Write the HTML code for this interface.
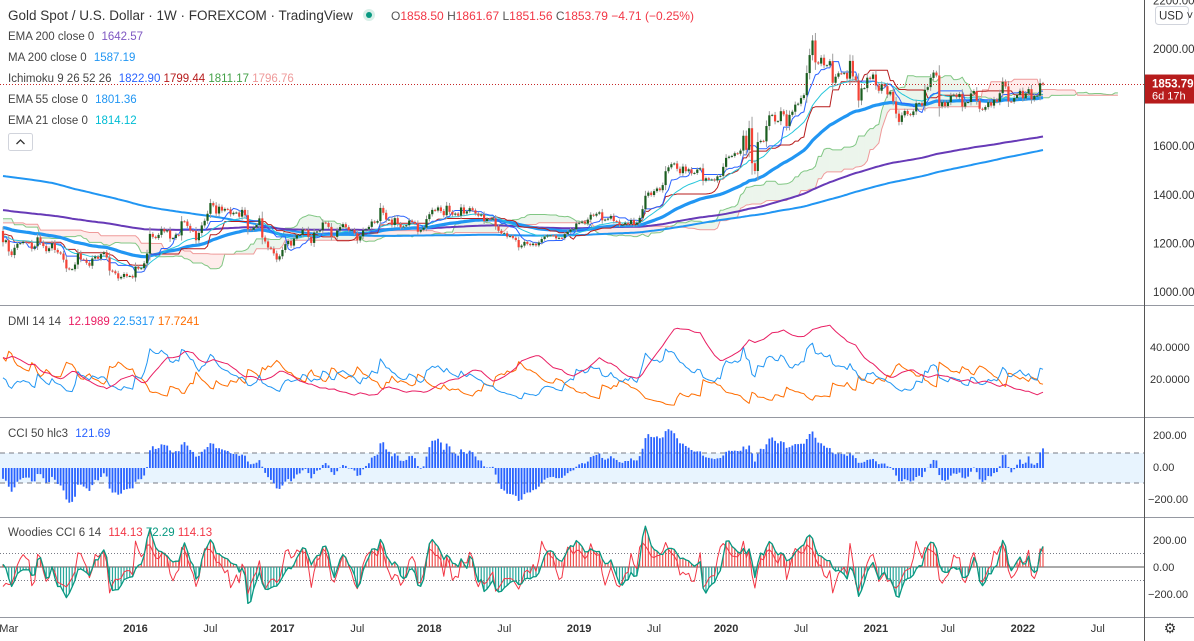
<!DOCTYPE html>
<html><head><meta charset="utf-8">
<style>
html,body{margin:0;padding:0;background:#fff;width:1194px;height:641px;overflow:hidden;font-family:"Liberation Sans",sans-serif}
svg{display:block}
text{font-family:"Liberation Sans",sans-serif}
</style></head>
<body>
<svg id="chart" width="1194" height="641" viewBox="0 0 1194 641">
<defs>
<clipPath id="cMain"><rect x="0" y="0" width="1144" height="305"/></clipPath>
<clipPath id="cDmi"><rect x="0" y="306" width="1144" height="111"/></clipPath>
<clipPath id="cCci"><rect x="0" y="418" width="1144" height="99"/></clipPath>
<clipPath id="cWcci"><rect x="0" y="518" width="1144" height="99"/></clipPath>
</defs>
<g id="panes"></g>
<g id="marks"></g>
<g id="axes"></g>
<g id="legend">
<text x="8" y="20" font-size="13.5" fill="#333">Gold Spot / U.S. Dollar · 1W · FOREXCOM · TradingView</text>
<circle cx="369" cy="15" r="6" fill="#d8efe8"/>
<circle cx="369" cy="15" r="3" fill="#089981"/>
<text x="391" y="20" font-size="12"><tspan fill="#555">O</tspan><tspan fill="#f23645">1858.50 </tspan><tspan fill="#555">H</tspan><tspan fill="#f23645">1861.67 </tspan><tspan fill="#555">L</tspan><tspan fill="#f23645">1851.56 </tspan><tspan fill="#555">C</tspan><tspan fill="#f23645">1853.79 −4.71 (−0.25%)</tspan></text>
<text x="8" y="40" font-size="11.5" fill="#444">EMA 200 close 0 <tspan fill="#7e57c2" dx="4">1642.57</tspan></text>
<text x="8" y="61" font-size="11.5" fill="#444">MA 200 close 0 <tspan fill="#2196f3" dx="4">1587.19</tspan></text>
<text x="8" y="82" font-size="11.5" fill="#444">Ichimoku 9 26 52 26 <tspan fill="#2962ff" dx="4">1822.90</tspan> <tspan fill="#b71c1c">1799.44</tspan> <tspan fill="#43a047">1811.17</tspan> <tspan fill="#ef9a9a">1796.76</tspan></text>
<text x="8" y="103" font-size="11.5" fill="#444">EMA 55 close 0 <tspan fill="#2196f3" dx="4">1801.36</tspan></text>
<text x="8" y="124" font-size="11.5" fill="#444">EMA 21 close 0 <tspan fill="#00bcd4" dx="4">1814.12</tspan></text>
<rect x="8.5" y="133.5" width="24" height="17" rx="2" fill="#fff" stroke="#d1d4dc"/>
<path d="M16.5 144 L20.5 140 L24.5 144" fill="none" stroke="#333" stroke-width="1.3"/>
<text x="8" y="325" font-size="11.5" fill="#444">DMI 14 14 <tspan fill="#e91e63" dx="4">12.1989</tspan> <tspan fill="#2196f3">22.5317</tspan> <tspan fill="#ff6d00">17.7241</tspan></text>
<text x="8" y="437" font-size="11.5" fill="#444">CCI 50 hlc3 <tspan fill="#2962ff" dx="4">121.69</tspan></text>
<text x="8" y="536" font-size="11.5" fill="#444">Woodies CCI 6 14 <tspan fill="#f23645" dx="4">114.13</tspan> <tspan fill="#089981">72.29</tspan> <tspan fill="#f23645">114.13</tspan></text>
</g>
</svg>
<script>
// ---- data: weekly closes Feb 2015 .. Feb 2022 ----
const closes = [1205,1213,
1167,1152,1182,1199,1201, 1207,1204,1203,1178, 1188,1225,1204,1189, 1168,1180,1201,1173,1163, 1158,1133,1097,1094, 1094,1113,1159,1134,1133, 1120,1108,1138,1146, 1137,1156,1163,1142, 1088,1085,1077,1056,1062, 1074,1065,1066,1060,
1104,1096,1098,1118, 1158,1239,1227,1222,1235, 1259,1249,1254,1220, 1222,1236,1233,1291, 1290,1272,1253,1252,1213, 1243,1274,1293,1322, 1366,1356,1323,1351, 1335,1342,1340,1320,1326, 1327,1310,1338,1316, 1258,1256,1266,1276, 1303,1224,1208,1183, 1178,1159,1134,1147,
1173,1197,1210,1191,1220, 1234,1235,1257,1256, 1227,1202,1245,1249, 1254,1286,1284,1268, 1228,1227,1253,1267,1279, 1267,1254,1256,1242, 1212,1229,1254,1258, 1268,1290,1285,1292, 1346,1326,1298,1298, 1276,1304,1280,1266,1270, 1275,1294,1288,1281, 1248,1256,1265,1300,
1320,1338,1335,1348,1333, 1316,1355,1330,1318, 1323,1314,1348,1323, 1332,1345,1336,1323, 1314,1319,1292,1301, 1298,1303,1270,1252, 1241,1242,1228,1231,1223, 1214,1184,1191,1206, 1198,1193,1199,1192, 1204,1218,1228,1233,1233, 1232,1221,1223,1222, 1238,1248,1257,1258,1282,
1285,1290,1282,1298, 1318,1314,1322,1328, 1295,1298,1302,1313, 1292,1290,1276,1277,1285, 1280,1296,1277,1285, 1305,1341,1396,1409, 1399,1415,1426,1419, 1440,1497,1513,1526,1529, 1507,1489,1516,1497, 1505,1488,1490,1504, 1509,1458,1468,1462, 1463,1459,1476,1478,1515,
1552,1557,1560,1571, 1569,1582,1643,1585, 1674,1530,1498,1617,1622, 1620,1683,1727,1729, 1702,1703,1744,1731, 1683,1729,1742,1771,1775, 1798,1810,1901,1975, 2035,1945,1940,1964,1933, 1933,1950,1861,1886, 1900,1898,1902,1878, 1951,1887,1871,1788,1838, 1839,1882,1877,1895,
1850,1828,1855,1847, 1813,1824,1784,1734, 1700,1727,1745,1732,1728, 1743,1777,1777,1767, 1832,1843,1881,1903,1891, 1764,1781,1765,1781, 1808,1812,1802,1815, 1763,1780,1782,1817,1827, 1787,1754,1750,1761, 1781,1767,1792,1783, 1818,1865,1846,1784, 1783,1798,1811,1828,
1797,1817,1835,1792,1807, 1808,1859,1854];
// monthly averages Apr 2011 .. Jan 2015 (indicator warm-up only, not drawn)
const priorMonthly = [1474,1512,1529,1572,1756,1772,1665,1739,1652,1656,1742,1673,1650,1585,1596,1594,1626,1745,1747,1721,1684,1671,1628,1593,1487,1414,1343,1286,1347,1349,1316,1275,1225,1244,1300,1336,1299,1287,1279,1311,1296,1239,1222,1176,1201,1251];
const ema200Seed = 1337;
const priceTicks = [2200,2000,1600,1400,1200,1000];
const dmiTicks = [40,20];
const cciTicks = [200,0,-200];
const timeLabels = ["Mar","2016","Jul","2017","Jul","2018","Jul","2019","Jul","2020","Jul","2021","Jul","2022","Jul"];
const timeLabelWeeks = [2,46,72,97,123,148,174,200,226,251,277,303,328,354,380];
const lastPrice = 1853.79;

// ---- helpers ----
const NS = "http://www.w3.org/2000/svg";
const svg = document.getElementById('chart');
const G = {panes:document.getElementById('panes'),marks:document.getElementById('marks'),axes:document.getElementById('axes')};
function el(tag, attrs, parent){const e=document.createElementNS(NS,tag);for(const k in attrs)e.setAttribute(k,attrs[k]);(parent||G.marks).appendChild(e);return e;}
function grp(clip,name){const g=el('g',{'clip-path':'url(#'+clip+')'});return g;}

const N = closes.length;
const pre = [];
priorMonthly.forEach((v,k)=>{const r = (k%3===0)?5:4; for(let j=0;j<r;j++) pre.push(v);});
const P = pre.length;
const all = pre.concat(closes);
const T = all.length;
const O=[],H=[],L=[],C=all;
for(let i=0;i<T;i++){const o=i>0?all[i-1]:all[i];const c=all[i];const d=Math.abs(c-o);O.push(o);H.push(Math.max(o,c)+4+0.3*d);L.push(Math.min(o,c)-4-0.3*d);}

const step = 1040/(N-1);
const xOf = i => 3 + i*step;
const yP = p => 49 + (2000-p)*0.243;
const yD = v => 411 - v*1.6;
const yC = v => 468 - v*0.15;
const yW = v => 567 - v*0.135;
const cciLabelY = v => 467 - v*0.16;

function ema(arr,n,seed){const a=2/(n+1);const out=[];let e=seed!==undefined?seed:arr[0];for(let i=0;i<arr.length;i++){e=i===0&&seed===undefined?arr[0]:e+a*(arr[i]-e);out.push(e);}return out;}
function sma(arr,n){const out=[];let s=0;for(let i=0;i<arr.length;i++){s+=arr[i];if(i>=n)s-=arr[i-n];out.push(s/Math.min(i+1,n));}return out;}
function don(n,i){let h=-1e9,l=1e9;for(let k=Math.max(0,i-n+1);k<=i;k++){h=Math.max(h,H[k]);l=Math.min(l,L[k]);}return (h+l)/2;}
function rma(arr,n){const out=[];let r=arr[0];for(let i=0;i<arr.length;i++){r=i===0?arr[0]:(r*(n-1)+arr[i])/n;out.push(r);}return out;}
function cci(n){const tp=[];for(let i=0;i<T;i++)tp.push((H[i]+L[i]+C[i])/3);const out=[];for(let i=0;i<T;i++){const s=Math.max(0,i-n+1);let m=0;for(let k=s;k<=i;k++)m+=tp[k];m/=(i-s+1);let md=0;for(let k=s;k<=i;k++)md+=Math.abs(tp[k]-m);md/=(i-s+1);out.push(md?((tp[i]-m)/(0.015*md)):0);}return out;}
function line(vals,yf,from,to,attrs,parent,name){let d='';for(let i=from;i<to;i++){const v=vals(i);if(v===null)continue;d+=(d?'L':'M')+xOf(i).toFixed(1)+' '+yf(v).toFixed(1);}const p=el('path',Object.assign({d:d,fill:'none','stroke-linejoin':'round'},attrs),parent);return p;}

// ---- panes / separators ----
[305,417,517,617].forEach((y,k)=>{const l=el('line',{x1:0,x2:1194,y1:y+.5,y2:y+.5,stroke:'#9598a1','stroke-width':1},G.panes);});
const ax=el('line',{x1:1144.5,x2:1144.5,y1:0,y2:641,stroke:'#555','stroke-width':1},G.panes);


// ---- indicators ----
const ema21 = ema(all,21), ema55 = ema(all,55), ma200 = sma(all,200);
const ema200 = []; {let e=ema200Seed;const a=2/201;for(let i=0;i<N;i++){if(i>0)e=e+a*(closes[i]-e);ema200.push(e);}}
const tenkan=[],kijun=[],spanA=[],spanB=[];
for(let i=0;i<T;i++){tenkan.push(don(9,i));kijun.push(don(26,i));}
for(let i=0;i<T;i++){spanA.push((tenkan[i]+kijun[i])/2);spanB.push(don(52,i));}

const gMain = grp('cMain','price-pane');
const A = i => spanA[P+i-26], B = i => spanB[P+i-26];
for(let i=0;i<N+25;i++){
  const a0=A(i),a1=A(i+1),b0=B(i),b1=B(i+1);
  const up=(a0+a1)>=(b0+b1);
  const q=el('polygon',{points:`${xOf(i)},${yP(a0)} ${xOf(i+1)},${yP(a1)} ${xOf(i+1)},${yP(b1)} ${xOf(i)},${yP(b0)}`,fill:up?'rgba(67,160,71,0.10)':'rgba(244,67,54,0.10)',stroke:'none'},gMain);
  
  
}
line(A,yP,0,N+26,{stroke:'#81c784','stroke-width':1},gMain,'ichimoku-leading-span-a');
line(B,yP,0,N+26,{stroke:'#ef9a9a','stroke-width':1},gMain,'ichimoku-leading-span-b');
line(i=>ma200[P+i],yP,0,N,{stroke:'#2196f3','stroke-width':2},gMain,'ma200-line');
line(i=>ema200[i],yP,0,N,{stroke:'#673ab7','stroke-width':2},gMain,'ema200-line');
line(i=>ema55[P+i],yP,0,N,{stroke:'#2196f3','stroke-width':3.2},gMain,'ema55-line');
line(i=>kijun[P+i],yP,0,N,{stroke:'#b71c1c','stroke-width':1},gMain,'ichimoku-base-line');
line(i=>ema21[P+i],yP,0,N,{stroke:'#26c6da','stroke-width':1},gMain,'ema21-line');
line(i=>tenkan[P+i],yP,0,N,{stroke:'#2962ff','stroke-width':1},gMain,'ichimoku-conversion-line');
for(let i=0;i<N;i++){
  const k=P+i,o=O[k],c=C[k],up=c>=o,x=xOf(i);
  const w=el('line',{x1:x,x2:x,y1:yP(H[k]),y2:yP(L[k]),stroke:'#9e9e9e','stroke-width':1},gMain);
  
  
  const top=yP(Math.max(o,c)),bot=yP(Math.min(o,c));
  const r=el('rect',{x:x-1.1,y:top,width:2.2,height:Math.max(1,bot-top),fill:up?'#1b5e20':'#f44336'},gMain);
  
  
}
const pl=el('line',{x1:0,x2:1144,y1:yP(lastPrice),y2:yP(lastPrice),stroke:'#c62828','stroke-width':1,'stroke-dasharray':'1 2'},G.marks);



// ---- DMI ----
const gD=grp('cDmi','dmi-pane');
const pdm=[],mdm=[],tr=[];
for(let i=0;i<T;i++){if(i===0){pdm.push(0);mdm.push(0);tr.push(H[0]-L[0]);continue;}const u=H[i]-H[i-1],d=L[i-1]-L[i];pdm.push(u>d&&u>0?u:0);mdm.push(d>u&&d>0?d:0);tr.push(Math.max(H[i]-L[i],Math.abs(H[i]-C[i-1]),Math.abs(L[i]-C[i-1])));}
const rtr=rma(tr,14),rp=rma(pdm,14),rm=rma(mdm,14);
const pdi=rp.map((v,i)=>100*v/rtr[i]),mdi=rm.map((v,i)=>100*v/rtr[i]);
const dx=pdi.map((v,i)=>100*Math.abs(v-mdi[i])/Math.max(1e-9,v+mdi[i]));
const adx=rma(dx,14);
line(i=>mdi[P+i],yD,0,N,{stroke:'#ff6d00','stroke-width':1},gD,'dmi-minus-di');
line(i=>pdi[P+i],yD,0,N,{stroke:'#2196f3','stroke-width':1},gD,'dmi-plus-di');
line(i=>adx[P+i],yD,0,N,{stroke:'#e91e63','stroke-width':1},gD,'dmi-adx');

// ---- CCI 50 ----
const gC=grp('cCci','cci-pane');
const band=el('rect',{x:0,y:yC(100),width:1144,height:yC(-100)-yC(100),fill:'rgba(33,150,243,0.10)'},gC);

[100,-100].forEach(v=>{const l=el('line',{x1:0,x2:1144,y1:yC(v),y2:yC(v),stroke:'#787b86','stroke-dasharray':'5 4'},gC);});
const c50=cci(50);
for(let i=0;i<N;i++){const v=c50[P+i];const y0=yC(0),y1=yC(v);const r=el('rect',{x:xOf(i)-0.9,y:Math.min(y0,y1),width:1.8,height:Math.abs(y1-y0),fill:'#2962ff'},gC);}

// ---- Woodies CCI ----
const gW=grp('cWcci','woodies-cci-pane');
[100,-100].forEach(v=>{const l=el('line',{x1:0,x2:1144,y1:yW(v),y2:yW(v),stroke:'#787b86','stroke-dasharray':'1 2'},gW);});
const zl=el('line',{x1:0,x2:1144,y1:yW(0),y2:yW(0),stroke:'#555'},gW);
const c14=cci(14),c6=cci(6);
for(let i=0;i<N;i++){const v=c14[P+i];const y0=yW(0),y1=yW(v);const r=el('rect',{x:xOf(i)-0.6,y:Math.min(y0,y1),width:1.2,height:Math.abs(y1-y0),fill:v>=0?'#ef5350':'#26a69a'},gW);}
line(i=>c6[P+i],yW,0,N,{stroke:'#f23645','stroke-width':1},gW,'woodies-turbo-cci');
line(i=>c14[P+i],yW,0,N,{stroke:'#089981','stroke-width':1.3},gW,'woodies-cci14');

// ---- axes ----
priceTicks.forEach(v=>{const t=el('text',{x:1153,y:yP(v)+4,'font-size':11.5,fill:'#333'},G.axes);t.textContent=v.toFixed(2);});
const usd=el('rect',{x:1155.5,y:6.5,width:33,height:18,rx:3,fill:'#fff',stroke:'#d1d4dc'},G.axes);
const ut=el('text',{x:1159,y:19.5,'font-size':11.5,fill:'#333'},G.axes);ut.textContent='USD ˅';
const pb=el('rect',{x:1145,y:yP(lastPrice)-10,width:49,height:29,fill:'#b71c1c'},G.axes);
const pt=el('text',{x:1152,y:yP(lastPrice)+3,'font-size':11.5,fill:'#fff','font-weight':'bold'},G.axes);pt.textContent=lastPrice.toFixed(2);
const ct=el('text',{x:1152,y:yP(lastPrice)+15,'font-size':11,fill:'#fff'},G.axes);ct.textContent='6d 17h';
dmiTicks.forEach(v=>{const t=el('text',{x:1150,y:yD(v)+4,'font-size':11,fill:'#333'},G.axes);t.textContent=v.toFixed(4);});
cciTicks.forEach(v=>{const t=el('text',{x:v<0?1148:1153,y:cciLabelY(v)+4,'font-size':11,fill:'#333'},G.axes);t.textContent=(v<0?'−':'')+Math.abs(v).toFixed(2);});
cciTicks.forEach(v=>{const t=el('text',{x:v<0?1148:1153,y:yW(v)+4,'font-size':11,fill:'#333'},G.axes);t.textContent=(v<0?'−':'')+Math.abs(v).toFixed(2);});
timeLabels.forEach((s,k)=>{const t=el('text',{x:xOf(timeLabelWeeks[k]),y:632,'font-size':11,fill:'#333','text-anchor':'middle','font-weight':/^\d/.test(s)?'bold':'normal'},G.axes);t.textContent=s;});
const gear=el('text',{x:1170,y:633,'font-size':14,fill:'#333','text-anchor':'middle'},G.axes);gear.textContent='⚙';
</script>
</body></html>
